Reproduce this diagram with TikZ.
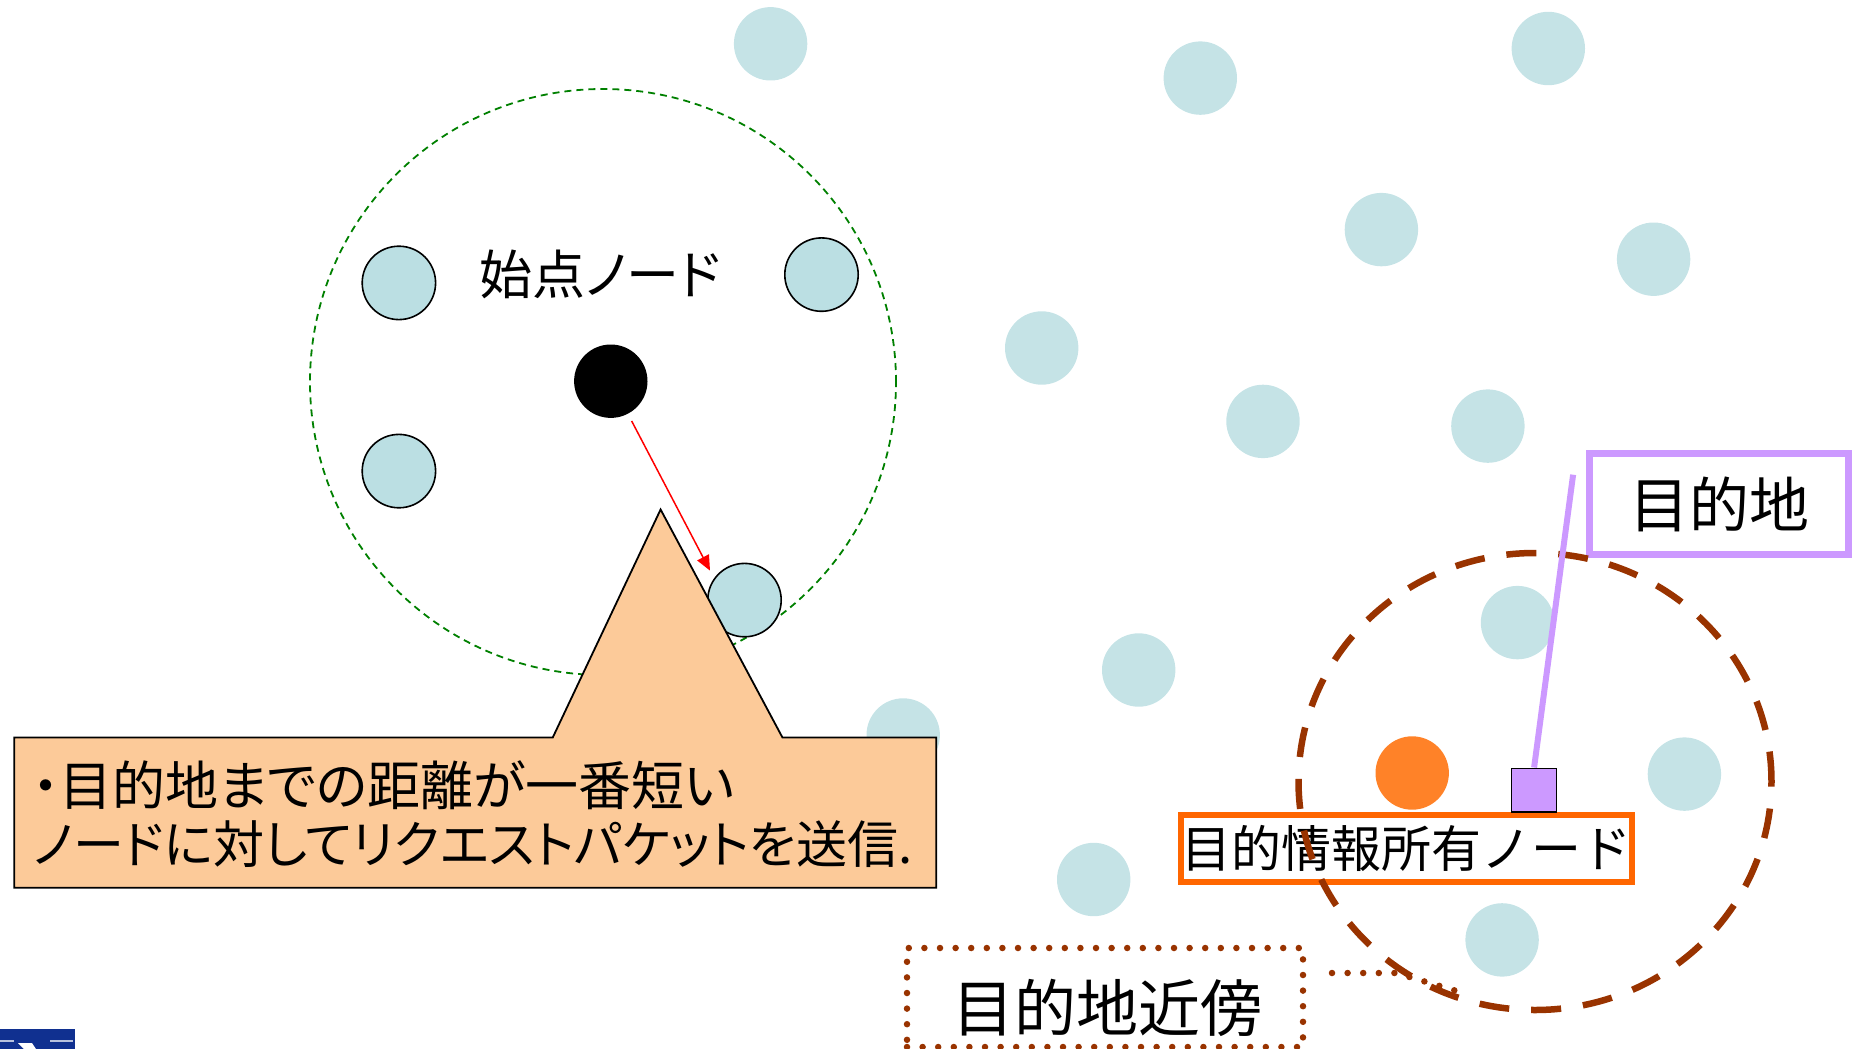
\documentclass[tikz,border=0pt]{standalone}
\usepackage{fontspec}
\newfontfamily\jp{Noto Sans CJK JP}
\newfontfamily\jpp[RawFeature=+palt]{Noto Sans CJK JP}
\usetikzlibrary{arrows.meta,shapes.geometric}
\definecolor{lblue}{RGB}{197,227,230}
\definecolor{bblue}{RGB}{187,223,227}
\definecolor{peach}{RGB}{252,202,153}
\definecolor{brownc}{RGB}{153,51,0}
\definecolor{orangeb}{RGB}{255,102,0}
\definecolor{orangec}{RGB}{255,130,40}
\definecolor{lav}{RGB}{204,153,255}
\definecolor{navyc}{RGB}{16,48,144}
\definecolor{dgreen}{RGB}{0,128,0}
\tikzset{
  pnode/.style={circle, fill=lblue, minimum size=73.4pt, inner sep=0pt},
  bnode/.style={circle, fill=bblue, draw=black, line width=1.6pt, minimum size=73.4pt, inner sep=0pt},
  jplabel/.style={inner sep=0pt, font=\jp},
  dotline/.style={draw=brownc, line width=6.5pt, line cap=round, dash pattern=on 0pt off 15.6pt},
}
\begin{document}
\begin{tikzpicture}[x=1pt,y=-1pt]
\useasboundingbox (0,0) rectangle (1856,1049);
\clip (0,0) rectangle (1856,1049);
% range circle
\node[circle, draw=dgreen, line width=1.8pt, dash pattern=on 7pt off 5pt, minimum size=586pt, inner sep=0pt] (range) at (603,382) {};
% plain nodes
\node[pnode] (n1) at (770.6,43.8) {};
\node[pnode] (n2) at (1200.3,78.1) {};
\node[pnode] (n3) at (1548.3,48.5) {};
\node[pnode] (n4) at (1381.4,229.6) {};
\node[pnode] (n5) at (1653.6,259.2) {};
\node[pnode] (n6) at (1041.7,348.0) {};
\node[pnode] (n7) at (1263.0,421.4) {};
\node[pnode] (n8) at (1487.9,426.1) {};
\node[pnode] (n9) at (1138.7,670.0) {};
\node[pnode] (n10) at (903.2,735.0) {};
\node[pnode] (n11) at (1093.7,879.5) {};
\node[pnode] (n12) at (1517.5,622.6) {};
\node[pnode] (n13) at (1684.4,774.1) {};
\node[pnode] (n14) at (1502.1,939.9) {};
% neighbours
\node[bnode] (b1) at (398.9,282.9) {};
\node[bnode] (b2) at (821.5,274.6) {};
\node[bnode] (b3) at (398.9,471.1) {};
\node[bnode] (b4) at (744.5,600.1) {};
\node[circle, fill=black, minimum size=73.4pt, inner sep=0pt] (src) at (610.8,381.2) {};
\node[jplabel, font=\jpp\fontsize{53}{60}\selectfont] (srclabel) at (600,274.6) {始点ノード};
% arrow
\coordinate (aend) at (710,570.6);
\draw[red, line width=1.5pt, -{Triangle[length=15pt,width=13pt]}, shorten <=8pt] (src) -- (aend);
% callout
\draw[fill=peach, draw=black, line width=1.8pt, line join=miter]
  (14.2,737.4) -- (552.8,737.4) -- (660.6,509.5) -- (782.4,737.4) -- (936.3,737.4)
  -- (936.3,887.8) -- (14.2,887.8) -- cycle;
\node[jplabel, anchor=west, font=\jpp\fontsize{53}{60}\selectfont] (cl1) at (33,785) {・目的地までの距離が一番短い};
\node[jplabel, anchor=west, font=\jpp\fontsize{51}{60}\selectfont] (cl2) at (33,844) {ノードに対してリクエストパケットを送信.};
% destination area
\node[circle, fill=orangec, minimum size=73.4pt, inner sep=0pt] (holder) at (1412.2,773) {};
\node[draw=orangeb, fill=white, line width=6pt, minimum width=451pt, minimum height=67pt, inner sep=0pt, font=\jp\fontsize{50}{55}\selectfont] (hbox) at (1406.2,848.7) {目的情報所有ノード};
\node[draw=lav, fill=white, line width=7pt, minimum width=259pt, minimum height=101pt, inner sep=0pt, font=\jp\fontsize{60}{66}\selectfont] (dbox) at (1719.3,504) {目的地};
\node[draw=brownc, line width=6.5pt, dash pattern=on 30pt off 22pt, ellipse, minimum width=473pt, minimum height=457pt, inner sep=0pt] (near) at (1535,781.5) {};
\coordinate (pl) at (1573.1,474.7);
\node[draw=black, fill=lav, line width=1.4pt, minimum width=45pt, minimum height=43.8pt, inner sep=0pt] (dest) at (1534.1,790.1) {};
\draw[lav, line width=6pt] (pl) -- (dest.north);
% neighbourhood label
\node[dotline, minimum width=396pt, minimum height=99pt, inner sep=0pt] (nbox) at (1105,997.5) {};
\node[jplabel, font=\jp\fontsize{62}{68}\selectfont] (nlabel) at (1107,1008) {目的地近傍};
\coordinate (ns) at (1332,973);
\coordinate (nm) at (1396,973);
\coordinate (ne) at (1460,992);
\draw[dotline] (ns) -- (nm) -- (ne);
% logo fragment
\fill[navyc] (0,1029) rectangle (75,1049);
\draw[white!70!navyc, line width=2pt] (0,1041) -- (14,1041) (50,1041) -- (73,1041);
\fill[white] (18,1043) -- (32,1043) -- (36,1049) -- (24,1049) -- cycle;
\end{tikzpicture}
\end{document}
